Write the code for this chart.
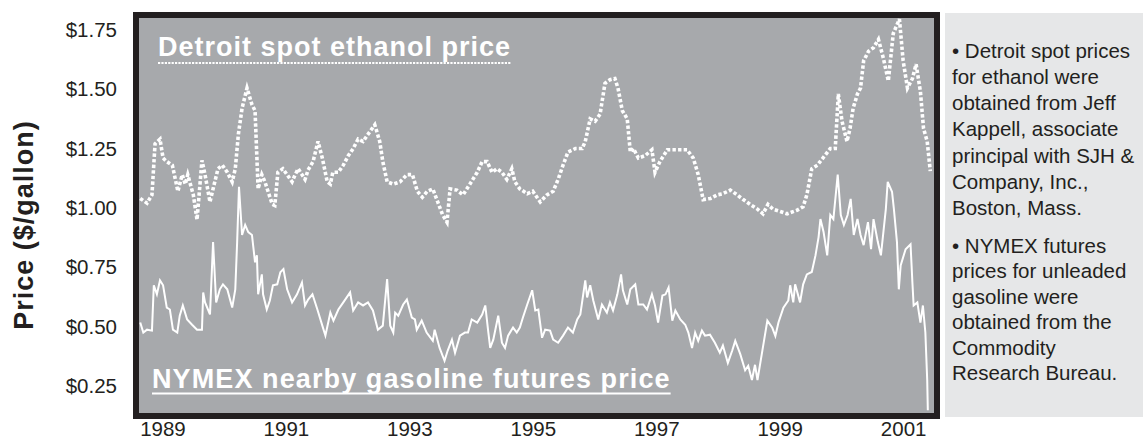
<!DOCTYPE html>
<html>
<head>
<meta charset="utf-8">
<script src="https://cdn.jsdelivr.net/npm/d3@7"></script>
<style>
  html, body { margin: 0; padding: 0; background: #fff; }
  svg { display: block; font-family: "Liberation Sans", Arial, Helvetica, sans-serif; }
</style>
</head>
<body>
<div id="chart"></div>
<script>
// Ethanol: Detroit spot price ($/gallon)
const ethanolYears = [
  1988.64, 1988.75, 1988.83, 1988.88, 1988.96, 1989.01, 1989.07, 1989.16, 1989.25, 1989.32,
  1989.37, 1989.41, 1989.50, 1989.56, 1989.64, 1989.69, 1989.77, 1989.82, 1989.90, 1989.97,
  1990.05, 1990.13, 1990.18, 1990.23, 1990.29, 1990.37, 1990.45, 1990.50, 1990.55, 1990.61,
  1990.66, 1990.71, 1990.78, 1990.82, 1990.87, 1990.95, 1991.02, 1991.10, 1991.15, 1991.20,
  1991.26, 1991.31, 1991.36, 1991.44, 1991.52, 1991.59, 1991.67, 1991.72, 1991.76, 1991.85,
  1991.93, 1992.01, 1992.09, 1992.17, 1992.25, 1992.33, 1992.44, 1992.52, 1992.57, 1992.64,
  1992.74, 1992.85, 1992.96, 1993.05, 1993.13, 1993.21, 1993.29, 1993.38, 1993.46, 1993.54,
  1993.61, 1993.66, 1993.77, 1993.87, 1993.98, 1994.10, 1994.18, 1994.26, 1994.34, 1994.42,
  1994.50, 1994.58, 1994.66, 1994.71, 1994.79, 1994.91, 1995.00, 1995.12, 1995.23, 1995.33,
  1995.41, 1995.49, 1995.57, 1995.69, 1995.80, 1995.85, 1995.93, 1996.01, 1996.09, 1996.17,
  1996.25, 1996.33, 1996.38, 1996.45, 1996.53, 1996.58, 1996.63, 1996.71, 1996.82, 1996.93,
  1996.98, 1997.06, 1997.18, 1997.28, 1997.39, 1997.50, 1997.60, 1997.68, 1997.76, 1997.88,
  1997.99, 1998.08, 1998.20, 1998.31, 1998.41, 1998.52, 1998.64, 1998.73, 1998.81, 1998.89,
  1999.01, 1999.12, 1999.28, 1999.38, 1999.44, 1999.52, 1999.61, 1999.70, 1999.82, 1999.90,
  1999.95, 2000.01, 2000.09, 2000.14, 2000.19, 2000.26, 2000.31, 2000.36, 2000.44, 2000.52,
  2000.60, 2000.68, 2000.76, 2000.84, 2000.94, 2001.00, 2001.07, 2001.15, 2001.21, 2001.28,
  2001.33, 2001.39, 2001.44
];
const ethanolPrices = [
  1.04, 1.02, 1.055, 1.27, 1.29, 1.21, 1.195, 1.18, 1.07, 1.14,
  1.10, 1.14, 1.055, 0.95, 1.20, 1.14, 1.025, 1.08, 1.165, 1.18,
  1.15, 1.11, 1.165, 1.31, 1.42, 1.505, 1.435, 1.41, 1.08, 1.14,
  1.11, 1.07, 1.015, 1.01, 1.15, 1.165, 1.14, 1.11, 1.14, 1.165,
  1.14, 1.12, 1.16, 1.195, 1.28, 1.21, 1.11, 1.10, 1.15, 1.15,
  1.18, 1.22, 1.25, 1.29, 1.28, 1.31, 1.35, 1.28, 1.195, 1.11,
  1.10, 1.11, 1.14, 1.14, 1.07, 1.045, 1.07, 1.08, 1.025, 0.97,
  0.94, 1.08, 1.075, 1.055, 1.10, 1.15, 1.195, 1.195, 1.15, 1.165,
  1.15, 1.12, 1.165, 1.11, 1.08, 1.06, 1.07, 1.025, 1.055, 1.07,
  1.12, 1.18, 1.235, 1.25, 1.25, 1.28, 1.375, 1.365, 1.395, 1.525,
  1.54, 1.545, 1.505, 1.41, 1.375, 1.235, 1.25, 1.21, 1.22, 1.245,
  1.15, 1.195, 1.245, 1.245, 1.245, 1.245, 1.21, 1.14, 1.035, 1.04,
  1.055, 1.06, 1.075, 1.055, 1.035, 1.015, 0.995, 0.975, 1.015, 0.995,
  0.985, 0.975, 0.99, 1.005, 1.055, 1.165, 1.18, 1.21, 1.25, 1.25,
  1.48, 1.365, 1.28, 1.335, 1.42, 1.48, 1.505, 1.62, 1.66, 1.675,
  1.71, 1.63, 1.535, 1.735, 1.795, 1.62, 1.505, 1.545, 1.605, 1.49,
  1.335, 1.28, 1.155
];

// Gasoline: NYMEX nearby futures price ($/gallon)
const gasolineYears = [
  1988.64, 1988.69, 1988.75, 1988.83, 1988.86, 1988.91, 1988.96, 1989.01, 1989.07, 1989.12,
  1989.17, 1989.24, 1989.28, 1989.33, 1989.40, 1989.48, 1989.56, 1989.64, 1989.66, 1989.69,
  1989.77, 1989.82, 1989.87, 1989.93, 1989.98, 1990.05, 1990.13, 1990.18, 1990.21, 1990.24,
  1990.29, 1990.34, 1990.39, 1990.45, 1990.50, 1990.53, 1990.55, 1990.61, 1990.63, 1990.69,
  1990.74, 1990.79, 1990.86, 1990.91, 1990.96, 1991.02, 1991.10, 1991.18, 1991.26, 1991.31,
  1991.36, 1991.43, 1991.51, 1991.59, 1991.64, 1991.72, 1991.77, 1991.85, 1991.93, 1992.04,
  1992.09, 1992.17, 1992.25, 1992.33, 1992.41, 1992.49, 1992.57, 1992.64, 1992.69, 1992.74,
  1992.77, 1992.82, 1992.90, 1992.96, 1993.04, 1993.09, 1993.12, 1993.20, 1993.28, 1993.38,
  1993.41, 1993.49, 1993.57, 1993.62, 1993.69, 1993.74, 1993.82, 1993.90, 1993.95, 1994.01,
  1994.10, 1994.18, 1994.23, 1994.28, 1994.31, 1994.36, 1994.44, 1994.50, 1994.55, 1994.60,
  1994.68, 1994.74, 1994.79, 1994.84, 1994.91, 1994.99, 1995.04, 1995.09, 1995.15, 1995.20,
  1995.28, 1995.33, 1995.41, 1995.49, 1995.57, 1995.65, 1995.72, 1995.77, 1995.85, 1995.88,
  1995.93, 1995.98, 1996.06, 1996.12, 1996.20, 1996.25, 1996.30, 1996.37, 1996.43, 1996.46,
  1996.53, 1996.58, 1996.66, 1996.71, 1996.79, 1996.85, 1996.93, 1996.98, 1997.03, 1997.10,
  1997.15, 1997.20, 1997.26, 1997.31, 1997.39, 1997.47, 1997.52, 1997.58, 1997.63, 1997.68,
  1997.74, 1997.79, 1997.87, 1997.95, 1998.03, 1998.08, 1998.16, 1998.23, 1998.28, 1998.36,
  1998.44, 1998.49, 1998.55, 1998.60, 1998.64, 1998.72, 1998.80, 1998.88, 1998.93, 1998.98,
  1999.06, 1999.14, 1999.17, 1999.22, 1999.25, 1999.33, 1999.38, 1999.44, 1999.52, 1999.58,
  1999.63, 1999.66, 1999.71, 1999.77, 1999.82, 1999.87, 1999.94, 1999.99, 2000.04, 2000.10,
  2000.15, 2000.20, 2000.26, 2000.31, 2000.36, 2000.43, 2000.48, 2000.52, 2000.59, 2000.64,
  2000.72, 2000.75, 2000.82, 2000.85, 2000.90, 2000.93, 2000.96, 2001.04, 2001.12, 2001.15,
  2001.17, 2001.23, 2001.28, 2001.32, 2001.36, 2001.39, 2001.40
];
const gasolinePrices = [
  0.517, 0.475, 0.487, 0.483, 0.674, 0.636, 0.695, 0.674, 0.58, 0.572,
  0.487, 0.475, 0.546, 0.589, 0.53, 0.508, 0.487, 0.487, 0.644, 0.602,
  0.551, 0.856, 0.602, 0.657, 0.678, 0.657, 0.58, 0.657, 0.856, 1.089,
  0.886, 0.928, 0.898, 0.886, 0.771, 0.80, 0.636, 0.72, 0.636, 0.572,
  0.61, 0.674, 0.678, 0.729, 0.742, 0.657, 0.602, 0.636, 0.686, 0.589,
  0.614, 0.636, 0.572, 0.504, 0.462, 0.559, 0.525, 0.572, 0.602, 0.644,
  0.568, 0.602, 0.589, 0.602, 0.568, 0.487, 0.504, 0.70, 0.504, 0.475,
  0.559, 0.546, 0.593, 0.614, 0.538, 0.53, 0.487, 0.525, 0.475, 0.44,
  0.487, 0.41, 0.356, 0.398, 0.445, 0.39, 0.462, 0.475, 0.475, 0.53,
  0.517, 0.551, 0.589, 0.475, 0.41, 0.445, 0.546, 0.432, 0.41, 0.462,
  0.496, 0.475, 0.496, 0.538, 0.593, 0.653, 0.568, 0.572, 0.453, 0.487,
  0.483, 0.445, 0.432, 0.462, 0.496, 0.475, 0.53, 0.551, 0.695, 0.623,
  0.674, 0.61, 0.53, 0.593, 0.559, 0.602, 0.568, 0.636, 0.72, 0.653,
  0.593, 0.657, 0.678, 0.593, 0.593, 0.572, 0.636, 0.589, 0.517, 0.631,
  0.636, 0.665, 0.525, 0.568, 0.53, 0.508, 0.475, 0.41, 0.475, 0.44,
  0.483, 0.462, 0.466, 0.432, 0.39, 0.42, 0.347, 0.398, 0.44, 0.385,
  0.316, 0.335, 0.275, 0.339, 0.275, 0.40, 0.525, 0.495, 0.46, 0.517,
  0.58, 0.61, 0.674, 0.602, 0.678, 0.602, 0.678, 0.72, 0.73, 0.80,
  0.877, 0.953, 0.90, 0.80, 0.97, 0.953, 1.14, 0.97, 0.928, 0.97,
  1.038, 0.886, 0.953, 0.886, 0.843, 0.94, 0.826, 0.953, 0.856, 0.80,
  0.996, 1.11, 1.068, 0.996, 0.856, 0.657, 0.758, 0.826, 0.847, 0.686,
  0.589, 0.602, 0.517, 0.589, 0.475, 0.275, 0.148
];

const yTicks = [0.25, 0.5, 0.75, 1.0, 1.25, 1.5, 1.75];
const xTicks = [1989, 1991, 1993, 1995, 1997, 1999, 2001];

const notesEthanol = [
  "\u2022 Detroit spot prices", "for ethanol were", "obtained from Jeff",
  "Kappell, associate", "principal with SJH &", "Company, Inc.,", "Boston, Mass."
];
const notesGasoline = [
  "\u2022 NYMEX futures", "prices for unleaded", "gasoline were",
  "obtained from the", "Commodity", "Research Bureau."
];

const width = 1143;
const height = 441;
const plot = { left: 139, right: 934, top: 18, bottom: 413 };
const ink = "#231f20";

const svg = d3
  .select("#chart")
  .append("svg")
  .attr("width", width)
  .attr("height", height);

const xScale = d3
  .scaleLinear()
  .domain([1988.62, 2001.5])
  .range([plot.left, plot.right]);
const yScale = d3
  .scaleLinear()
  .domain([0.136, 1.80])
  .range([plot.bottom, plot.top]);

// notes panel on the right
svg
  .append("rect")
  .attr("x", 945)
  .attr("y", 13)
  .attr("width", width - 945)
  .attr("height", 404)
  .attr("fill", "#e6e7e8");

const notes = svg
  .append("g")
  .attr("font-size", "20.5px")
  .attr("fill", ink);
notes
  .selectAll("text.eth")
  .data(notesEthanol)
  .enter()
  .append("text")
  .attr("class", "eth")
  .attr("x", 952)
  .attr("y", (d, i) => 57.5 + i * 26.3)
  .text((d) => d);
notes
  .selectAll("text.gas")
  .data(notesGasoline)
  .enter()
  .append("text")
  .attr("class", "gas")
  .attr("x", 952)
  .attr("y", (d, i) => 252.5 + i * 25.5)
  .text((d) => d);

// plot background
svg
  .append("rect")
  .attr("x", plot.left)
  .attr("y", plot.top)
  .attr("width", plot.right - plot.left)
  .attr("height", plot.bottom - plot.top)
  .attr("fill", "#a7a9ac");

svg
  .append("clipPath")
  .attr("id", "plot-clip")
  .append("rect")
  .attr("x", plot.left)
  .attr("y", plot.top)
  .attr("width", plot.right - plot.left)
  .attr("height", plot.bottom - plot.top);

const ethanol = ethanolYears.map((t, i) => ({ t: t, v: ethanolPrices[i] }));
const gasoline = gasolineYears.map((t, i) => ({ t: t, v: gasolinePrices[i] }));

const line = d3
  .line()
  .x((d) => xScale(d.t))
  .y((d) => yScale(d.v));

const lines = svg.append("g").attr("clip-path", "url(#plot-clip)");

lines
  .append("path")
  .datum(gasoline)
  .attr("d", line)
  .attr("fill", "none")
  .attr("stroke", "#fff")
  .attr("stroke-width", 2)
  .attr("stroke-linejoin", "miter");

lines
  .append("path")
  .datum(ethanol)
  .attr("d", line)
  .attr("fill", "none")
  .attr("stroke", "#fff")
  .attr("stroke-width", 3.6)
  .attr("stroke-dasharray", "3.4,2.2");

// series labels inside the plot
const ethLabel = svg
  .append("text")
  .attr("x", 158)
  .attr("y", 56)
  .attr("fill", "#fff")
  .attr("font-size", "27px")
  .attr("font-weight", "bold")
  .attr("letter-spacing", "1px")
  .text("Detroit spot ethanol price");
const ethW = ethLabel.node().getComputedTextLength();
svg
  .append("line")
  .attr("x1", 158)
  .attr("x2", 158 + ethW)
  .attr("y1", 63)
  .attr("y2", 63)
  .attr("stroke", "#fff")
  .attr("stroke-width", 2.2)
  .attr("stroke-dasharray", "2.2,1.2");

const gasLabel = svg
  .append("text")
  .attr("x", 152)
  .attr("y", 388)
  .attr("fill", "#fff")
  .attr("font-size", "27px")
  .attr("font-weight", "bold")
  .attr("letter-spacing", "1.1px")
  .text("NYMEX nearby gasoline futures price");
const gasW = gasLabel.node().getComputedTextLength();
svg
  .append("line")
  .attr("x1", 152)
  .attr("x2", 152 + gasW)
  .attr("y1", 393.5)
  .attr("y2", 393.5)
  .attr("stroke", "#fff")
  .attr("stroke-width", 2.2);

// frame
svg
  .append("rect")
  .attr("x", plot.left - 3)
  .attr("y", plot.top - 3)
  .attr("width", plot.right - plot.left + 6)
  .attr("height", plot.bottom - plot.top + 6)
  .attr("fill", "none")
  .attr("stroke", ink)
  .attr("stroke-width", 6);

// axes
const yAxis = d3
  .axisLeft(yScale)
  .tickValues(yTicks)
  .tickSize(0)
  .tickPadding(22)
  .tickFormat(d3.format("$.2f"));
const xAxis = d3
  .axisBottom(xScale)
  .tickValues(xTicks)
  .tickSize(0)
  .tickPadding(8.5)
  .tickFormat(d3.format("d"));

const yG = svg
  .append("g")
  .attr("transform", `translate(${plot.left},0)`)
  .call(yAxis);
const xG = svg
  .append("g")
  .attr("transform", `translate(0,${plot.bottom})`)
  .call(xAxis);

[yG, xG].forEach((g) => {
  g.select(".domain").remove();
  g.selectAll("text")
    .attr("font-size", "20.5px")
    .attr("font-family", "'Liberation Sans', Arial, Helvetica, sans-serif")
    .attr("fill", ink);
});

svg
  .append("text")
  .attr("transform", "translate(33,225) rotate(-90)")
  .attr("text-anchor", "middle")
  .attr("font-size", "27px")
  .attr("font-weight", "bold")
  .attr("letter-spacing", "1px")
  .attr("fill", ink)
  .text("Price ($/gallon)");
</script>
</body>
</html>
